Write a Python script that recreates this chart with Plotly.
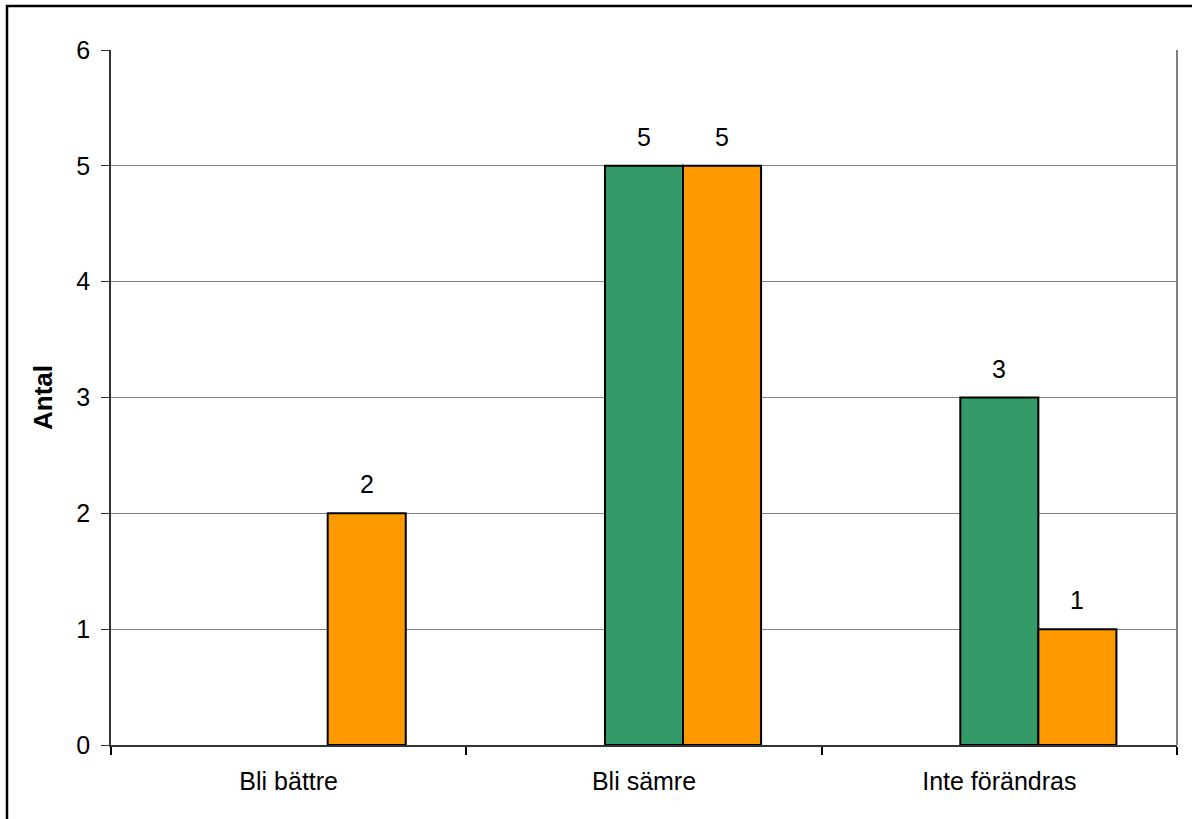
import plotly.graph_objects as go

categories = ["Bli bättre", "Bli sämre", "Inte förändras"]
series0_values = [0, 0, 0]
series1_values = [0, 5, 3]
series2_values = [2, 5, 1]
y_ticks = [0, 1, 2, 3, 4, 5, 6]

FONT = "Liberation Sans, Arial, sans-serif"
W, H = 1192, 819
ML, MR, MT, MB = 111, 15, 50, 74
BARGAP = 0.341
series = [
    ("Serie 0", series0_values, "#9999FF"),
    ("Serie 1", series1_values, "#339966"),
    ("Serie 2", series2_values, "#FF9900"),
]

fig = go.Figure()
for name, vals, col in series:
    fig.add_trace(go.Bar(
        x=categories, y=vals, name=name,
        marker=dict(color=col, line=dict(color="black",
                                         width=[2 if v else 0 for v in vals])),
    ))

# value labels above bars (non-zero values only)
plot_w = W - ML - MR
bar_w = plot_w / len(categories) * (1 - BARGAP) / len(series)
for i, (name, vals, col) in enumerate(series):
    shift = (i - (len(series) - 1) / 2) * bar_w
    for c, v in zip(categories, vals):
        if v:
            fig.add_annotation(x=c, y=v, xref="x", yref="y", text=str(v),
                               showarrow=False, xshift=shift, yshift=13,
                               yanchor="bottom",
                               font=dict(size=25, family=FONT, color="black"))

fig.update_layout(
    width=W, height=H,
    margin=dict(l=ML, r=MR, t=MT, b=MB),
    paper_bgcolor="white", plot_bgcolor="white",
    barmode="group", bargap=BARGAP, bargroupgap=0,
    showlegend=False,
    font=dict(family=FONT, size=25, color="black"),
)
fig.update_xaxes(
    type="category", tickson="boundaries", ticks="outside", ticklen=8,
    tickcolor="black", tickwidth=1.5, showline=True, linecolor="#333333", linewidth=2,
    showgrid=False, tickfont=dict(size=25, family=FONT, color="black"),
    ticklabelstandoff=13,
)
fig.update_yaxes(
    range=[0, 6], tickvals=y_ticks, ticks="outside", ticklen=8,
    tickcolor="#333333", showline=True, linecolor="#333333", linewidth=1.5,
    showgrid=True, gridcolor="#808080", gridwidth=1, zeroline=False,
    tickfont=dict(size=25, family=FONT, color="black"),
    ticklabelstandoff=6,
    title=dict(text="<b>Antal</b>", font=dict(size=26, family=FONT, color="black"), standoff=16),
)
# right border of plot area
fig.add_shape(type="line", xref="paper", yref="paper", x0=1, x1=1, y0=0, y1=1,
              line=dict(color="#808080", width=2))
# outer chart border
fig.add_shape(type="rect", xref="paper", yref="paper",
              x0=(7 - ML) / plot_w, x1=(W + 5 - ML) / plot_w,
              y0=-(MB + 10) / (H - MT - MB), y1=(H - MB - 6) / (H - MT - MB),
              line=dict(color="black", width=2.5), fillcolor="rgba(0,0,0,0)")

fig.write_html("out.html", config={"displayModeBar": False},
               post_script="document.body.style.margin='0';")
